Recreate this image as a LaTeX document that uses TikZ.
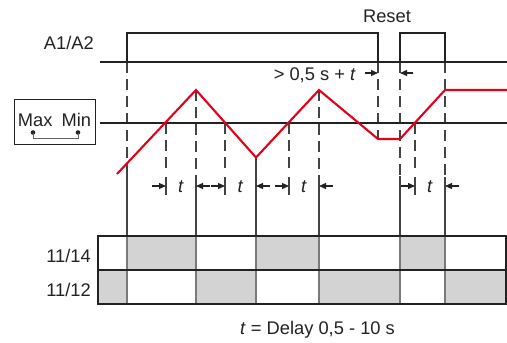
\documentclass[tikz,border=0pt]{standalone}
\usepackage{fontspec}
\setmainfont{Liberation Sans}
\usetikzlibrary{arrows.meta}
\definecolor{sigred}{HTML}{E2001A}
\definecolor{cellgray}{HTML}{D3D3D3}
\definecolor{cellline}{HTML}{7A7A7A}
\definecolor{ink}{HTML}{222222}
\begin{document}
\begin{tikzpicture}[x=1pt,y=-1pt,
  lbl/.style={inner sep=0pt, font=\fontsize{18.3}{21}\selectfont, text=ink},
  sig/.style={line width=1.9pt, draw=ink},
  thinline/.style={line width=1.3pt, draw=ink},
  dsh/.style={line width=1.1pt, draw=ink!85, dash pattern=on 10.5pt off 6.5pt},
  vline/.style={line width=1.1pt, draw=ink!85},
  wave/.style={line width=2.1pt, draw=sigred, line join=miter},
  dim/.style={-{Triangle[length=7pt,width=6pt]}, line width=1.2pt, draw=ink},
  border/.style={line width=2pt, draw=ink},
  cellfill/.style={fill=cellgray},
  dotnode/.style={circle, fill=ink, inner sep=0pt, minimum size=4.6pt}
]
\useasboundingbox (0,0) rectangle (507,343);

% ---- contact table fills
\fill[cellfill] (127,236) rectangle (196,270);
\fill[cellfill] (256,236) rectangle (319,270);
\fill[cellfill] (400,236) rectangle (445,270);
\fill[cellfill] (98,270) rectangle (127,304);
\fill[cellfill] (196,270) rectangle (256,304);
\fill[cellfill] (319,270) rectangle (400,304);
\fill[cellfill] (445,270) rectangle (506,304);

% ---- event verticals
\foreach \x/\ya/\yb in {127/62/165, 196/90/177, 319/90/177, 400/62/176, 445/62/177}{
  \draw[dsh] (\x,\ya) -- (\x,\yb);
  \draw[vline] (\x,\yb) -- (\x,236);
  \draw[line width=1.3pt, draw=cellline] (\x,236) -- (\x,304);
}
\draw[vline] (256,157.5) -- (256,236);
\draw[line width=1.3pt, draw=cellline] (256,236) -- (256,304);
\draw[dsh] (378,62) -- (378,139);

% ---- delay markers
\foreach \x in {166,225,289,415}{
  \draw[dsh] (\x,123) -- (\x,170);
  \draw[vline] (\x,177) -- (\x,195);
}

% ---- A1/A2 supply signal
\draw[sig] (100,62) -- (507,62);
\draw[sig] (127,62) -- (127,33) -- (378,33) -- (378,62);
\draw[sig] (400,62) -- (400,33) -- (445,33) -- (445,62);

% ---- threshold
\draw[thinline] (100,123) -- (507,123);

% ---- measured value
\draw[wave] (117,174) -- (196,90) -- (256,157.5) -- (319,90) -- (378,139) -- (400,139) -- (445,90) -- (507,90);

% ---- Max/Min box
\node[draw=ink, line width=1.8pt, minimum width=81pt, minimum height=45pt, inner sep=0pt] (box) at (55,122) {};
\node[lbl, anchor=base] (mm) at (54.5,126.7) {Max\hspace{9pt}Min};
\node[dotnode] (dmax) at (33,132.5) {};
\node[dotnode] (dmin) at (78,132.5) {};
\draw[line width=0.9pt, draw=ink!70] (dmax.center) -- (33,138) -- (78,138) -- (dmin.center);

% ---- labels
\node[lbl, anchor=base east] (a1a2) at (94,49.3) {A1/A2};
\node[lbl, anchor=base] (reset) at (387,22.7) {Reset};
\node[lbl, anchor=base east] (dly) at (356,80) {> 0,5 s + \textit{t}};
\node[lbl, anchor=base east] (r14) at (91,262) {11/14};
\node[lbl, anchor=base east] (r12) at (91,296.5) {11/12};
\node[lbl, anchor=base] (legend) at (317.5,334.5) {\textit{t} = Delay 0,5 - 10 s};

% ---- dimension arrows
\coordinate (ra1) at (365,73); \coordinate (ra2) at (378,73);
\coordinate (rb1) at (413,73); \coordinate (rb2) at (400,73);
\draw[dim] (ra1) -- (ra2);
\draw[dim] (rb1) -- (rb2);
\foreach \a/\b in {166/196, 225/256, 289/319, 415/445}{
  \coordinate (pa) at (\a-14,186); \coordinate (qa) at (\a,186);
  \coordinate (pb) at (\b+14,186); \coordinate (qb) at (\b,186);
  \draw[dim] (pa) -- (qa);
  \draw[dim] (pb) -- (qb);
  \node[lbl, anchor=base] at ({(\a+\b)/2},192) {\textit{t}};
}

% ---- table border
\draw[border] (98,236) rectangle (506,304);
\draw[border] (98,270) -- (506,270);
\end{tikzpicture}
\end{document}
